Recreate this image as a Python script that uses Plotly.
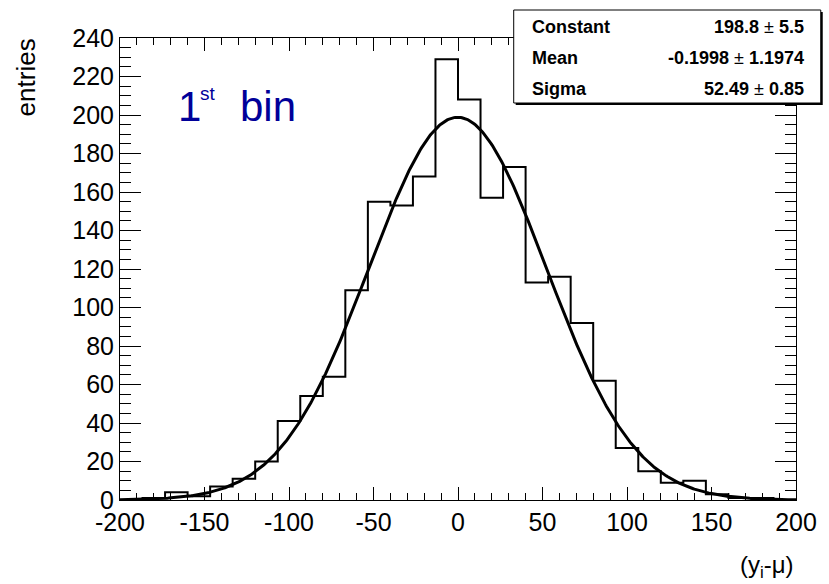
import numpy as np
import plotly.graph_objects as go

# Histogram of residuals, 30 bins on [-200, 200]
bin_lo, bin_hi, n_bins = -200.0, 200.0, 30
counts = [0, 1, 4, 2, 7, 11, 20, 41, 54, 64,
          109, 155, 153, 168, 229, 208, 157, 173, 113, 116,
          92, 62, 27, 15, 9, 10, 3, 1, 1, 0]

# Gaussian fit parameters
fit_constant, fit_constant_err = 198.8, 5.5
fit_mean, fit_mean_err = -0.1998, 1.1974
fit_sigma, fit_sigma_err = 52.49, 0.85

x_ticks = [-200, -150, -100, -50, 0, 50, 100, 150, 200]
y_ticks = list(range(0, 241, 20))

W, H = 829, 584
L, R, T, B = 119.5, 802, 38, 500  # plot frame in pixels

edges = np.linspace(bin_lo, bin_hi, n_bins + 1)
step_y = list(counts) + [counts[-1]]

xf = np.linspace(bin_lo, bin_hi, 600)
yf = fit_constant * np.exp(-0.5 * ((xf - fit_mean) / fit_sigma) ** 2)

fig = go.Figure()
fig.add_trace(go.Scatter(x=edges, y=step_y, mode="lines", line_shape="hv",
                         line=dict(color="black", width=2), hoverinfo="skip"))
fig.add_trace(go.Scatter(x=xf, y=yf, mode="lines",
                         line=dict(color="black", width=3), hoverinfo="skip"))

FONT = "Liberation Sans, Arial, sans-serif"


def px_x(p):
    return (p - L) / (R - L)


def px_y(p):
    return (B - p) / (B - T)


shapes = []
# stats box with drop shadow
bx0, by0, bx1, by1 = 517, 10, 827, 103
shapes.append(dict(type="rect", xref="paper", yref="paper", layer="above",
                   x0=px_x(bx0 + 2), x1=px_x(bx1 + 2), y0=px_y(by0 + 2), y1=px_y(by1 + 2),
                   fillcolor="black", line=dict(width=0)))
shapes.append(dict(type="rect", xref="paper", yref="paper", layer="above",
                   x0=px_x(bx0), x1=px_x(bx1), y0=px_y(by0), y1=px_y(by1),
                   fillcolor="white", line=dict(color="black", width=1)))

annotations = []
rows = [("Constant", f"{fit_constant:.1f}", f"{fit_constant_err:.1f}", 27),
        ("Mean", f"{fit_mean:.4f}", f"{fit_mean_err:.4f}", 58),
        ("Sigma", f"{fit_sigma:.2f}", f"{fit_sigma_err:.2f}", 89)]
for name, val, err, yc in rows:
    annotations.append(dict(xref="paper", yref="paper", x=px_x(533), y=px_y(yc),
                            xanchor="left", yanchor="middle", showarrow=False,
                            text=f"<b>{name}</b>",
                            font=dict(family=FONT, size=18, color="black")))
    annotations.append(dict(xref="paper", yref="paper", x=px_x(812), y=px_y(yc),
                            xanchor="right", yanchor="middle", showarrow=False,
                            text=f"<b>{val}</b> ± <b>{err}</b>",
                            font=dict(family=FONT, size=18, color="black")))

# panel label
navy = "#000099"
annotations.append(dict(xref="paper", yref="paper", x=px_x(176), y=px_y(106),
                        xanchor="left", yanchor="middle", showarrow=False, text="1",
                        font=dict(family=FONT, size=42, color=navy)))
annotations.append(dict(xref="paper", yref="paper", x=px_x(198), y=px_y(93),
                        xanchor="left", yanchor="middle", showarrow=False, text="st",
                        font=dict(family=FONT, size=19, color=navy)))
annotations.append(dict(xref="paper", yref="paper", x=px_x(239), y=px_y(106),
                        xanchor="left", yanchor="middle", showarrow=False, text="bin",
                        font=dict(family=FONT, size=42, color=navy)))

# axis titles
annotations.append(dict(xref="paper", yref="paper", x=px_x(25), y=px_y(36),
                        xanchor="center", yanchor="top", showarrow=False,
                        text="entries", textangle=-90,
                        font=dict(family=FONT, size=26, color="black")))
annotations.append(dict(xref="paper", yref="paper", x=px_x(802), y=px_y(566),
                        xanchor="right", yanchor="middle", showarrow=False,
                        text="(y<sub>i</sub>-μ)",
                        font=dict(family=FONT, size=24, color="black")))

axis_common = dict(showgrid=False, zeroline=False, showline=True, linecolor="black",
                   linewidth=1, mirror="allticks", ticks="inside", tickcolor="black",
                   tickwidth=1, tickfont=dict(family=FONT, size=25, color="black"))

fig.update_layout(
    width=W, height=H,
    margin=dict(l=L, r=W - R, t=T, b=H - B, pad=0),
    paper_bgcolor="white", plot_bgcolor="white",
    showlegend=False,
    xaxis=dict(range=[bin_lo, bin_hi], tickmode="array", tickvals=x_ticks,
               ticktext=[str(v) for v in x_ticks], ticklen=13,
               minor=dict(dtick=10, ticklen=7, ticks="inside", tickcolor="black", tickwidth=1),
               **axis_common),
    yaxis=dict(range=[0, 240], tickmode="array", tickvals=y_ticks,
               ticktext=[str(v) for v in y_ticks], ticklen=21,
               minor=dict(dtick=5, ticklen=11, ticks="inside", tickcolor="black", tickwidth=1),
               **axis_common),
    shapes=shapes,
    annotations=annotations,
)

fig.write_html("out.html")
